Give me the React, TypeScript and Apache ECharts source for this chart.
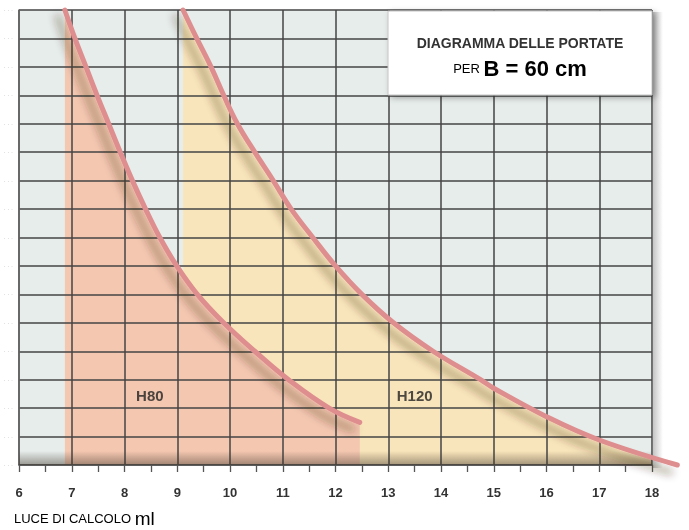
import React, { useEffect, useRef } from "react";
import * as echarts from "echarts";

// Span (x, m) and load values (y)
const h80X = [6.87, 7.06, 7.27, 7.48, 7.7, 7.92, 8.15, 8.4, 8.67, 8.99, 9.38, 9.88, 10.47, 11.11, 11.88, 12.46];
const h80Y = [16.0, 15.0, 14.0, 13.0, 12.0, 11.0, 10.0, 9.0, 8.0, 7.0, 6.0, 5.0, 4.0, 3.0, 2.0, 1.5];
const h120X = [9.11, 9.37, 9.64, 9.88, 10.14, 10.47, 10.82, 11.16, 11.57, 12.0, 12.5, 13.1, 13.85, 14.75, 15.0, 16.0, 17.0, 18.48];
const h120Y = [16.0, 15.0, 14.0, 13.0, 12.0, 11.0, 10.0, 9.0, 8.0, 7.0, 6.0, 5.0, 4.0, 3.0, 2.7, 1.7, 0.88, 0];
const labelNames = ["H80", "H120"];
const labelX = [8.48, 13.5];
const labelY = [2.45, 2.45];
const xMin = 6;
const xMax = 18;
const yMin = 0;
const yMax = 16;

const pairs = (xs: number[], ys: number[]) => xs.map((x, i) => [x, ys[i]]);

// main grid geometry
const G_LEFT = 19;
const G_RIGHT = 37;
const G_TOP = 10;
const G_BOTTOM = 65;
const W = 689;
const H = 530;

export default function App() {
  const ref = useRef<HTMLDivElement>(null);
  useEffect(() => {
    if (!ref.current) return;
    const chart = echarts.init(ref.current, undefined, { renderer: "svg" });
    const curveColor = "#de8e8e";

    // an overlay grid sharing the same scale, wider so the curves are not cut at the frame
    const pxX = (W - G_LEFT - G_RIGHT) / (xMax - xMin);
    const pxY = (H - G_TOP - G_BOTTOM) / (yMax - yMin);
    const ext = { x0: xMin, x1: 18.6, y0: -0.3, y1: 16.3 };
    const grid2 = {
      left: G_LEFT - (xMin - ext.x0) * pxX,
      width: (ext.x1 - ext.x0) * pxX,
      top: G_TOP - (ext.y1 - yMax) * pxY,
      height: (ext.y1 - ext.y0) * pxY,
    };

    const lineSeries = (name: string, data: number[][]) => ({
      name,
      type: "line",
      xAxisIndex: 1,
      yAxisIndex: 1,
      data,
      smooth: 0.4,
      showSymbol: false,
      clip: false,
      z: 6,
      lineStyle: {
        color: curveColor,
        width: 5,
        cap: "round",
        shadowColor: "rgba(50,40,30,0.45)",
        shadowBlur: 8,
        shadowOffsetX: -7,
        shadowOffsetY: 7,
      },
      silent: true,
    });
    const areaSeries = (name: string, data: number[][], color: string, z: number) => ({
      name: name + "-area",
      type: "line",
      data,
      smooth: 0.4,
      showSymbol: false,
      clip: true,
      z,
      lineStyle: { width: 0 },
      areaStyle: { color, opacity: 1 },
      silent: true,
    });
    chart.setOption({
      animation: false,
      grid: [
        {
          left: G_LEFT,
          right: G_RIGHT,
          top: G_TOP,
          bottom: G_BOTTOM,
          show: true,
          backgroundColor: "#e7edeb",
          borderWidth: 0,
        },
        { ...grid2, show: false },
      ],
      xAxis: [
        {
          type: "value",
          min: xMin,
          max: xMax,
          interval: 1,
          z: 4,
          axisLine: { show: true, lineStyle: { color: "#555", width: 1.5 } },
          axisTick: { show: true, length: 7, lineStyle: { color: "#555", width: 1.3 } },
          minorTick: { show: true, splitNumber: 2, length: 7, lineStyle: { color: "#555", width: 1.3 } },
          splitLine: { show: true, lineStyle: { color: "#454545", width: 1.5 } },
          axisLabel: {
            margin: 21,
            color: "#333",
            fontFamily: "Liberation Sans",
            fontWeight: "bold",
            fontSize: 13,
          },
        },
        { type: "value", gridIndex: 1, min: ext.x0, max: ext.x1, show: false },
      ],
      yAxis: [
        {
          type: "value",
          min: yMin,
          max: yMax,
          interval: 1,
          z: 4,
          axisLine: { show: true, lineStyle: { color: "#666", width: 1.5 } },
          axisTick: { show: false },
          splitLine: { show: true, lineStyle: { color: "#454545", width: 1.5 } },
          axisLabel: {
            interval: 1,
            margin: 6,
            color: "#9a9a9a",
            fontSize: 6,
            formatter: () => "· · ·",
          },
        },
        { type: "value", gridIndex: 1, min: ext.y0, max: ext.y1, show: false },
      ],
      graphic: [
        {
          type: "rect",
          z: 5,
          shape: { x: 19, y: 451, width: 633, height: 14 },
          style: {
            fill: new echarts.graphic.LinearGradient(0, 0, 0, 1, [
              { offset: 0, color: "rgba(60,50,40,0)" },
              { offset: 1, color: "rgba(60,50,40,0.45)" },
            ]),
          },
          silent: true,
        },
        {
          type: "rect",
          z: 5,
          shape: { x: 653, y: 12, width: 10, height: 456 },
          style: {
            fill: new echarts.graphic.LinearGradient(0, 0, 1, 0, [
              { offset: 0, color: "rgba(90,90,90,0.35)" },
              { offset: 1, color: "rgba(90,90,90,0)" },
            ]),
          },
          silent: true,
        },
        {
          type: "rect",
          z: 10,
          shape: { x: 388, y: 11, width: 264, height: 84 },
          style: {
            fill: "#ffffff",
            stroke: "#c4c4c4",
            lineWidth: 1,
            shadowBlur: 6,
            shadowColor: "rgba(0,0,0,0.35)",
            shadowOffsetX: 3,
            shadowOffsetY: 2,
          },
        },
        {
          type: "text",
          z: 11,
          x: 520,
          y: 43,
          style: {
            text: "DIAGRAMMA DELLE PORTATE",
            fill: "#333",
            font: "bold 14px 'Liberation Sans'",
            align: "center",
            verticalAlign: "middle",
          },
        },
        {
          type: "text",
          z: 11,
          x: 520,
          y: 68,
          style: {
            text: "{a|PER }{b|B = 60 cm}",
            align: "center",
            verticalAlign: "middle",
            rich: {
              a: { fontSize: 13, fontFamily: "Liberation Sans", color: "#444" },
              b: { fontSize: 22, fontFamily: "Liberation Sans", fontWeight: "bold", color: "#333" },
            },
          },
        },
        {
          type: "text",
          z: 11,
          x: 14,
          y: 518,
          style: {
            text: "{a|LUCE DI CALCOLO }{b|ml}",
            verticalAlign: "middle",
            rich: {
              a: { fontSize: 13, fontFamily: "Liberation Sans", color: "#333" },
              b: { fontSize: 19, fontFamily: "Liberation Sans", color: "#333" },
            },
          },
        },
      ],
      series: [
        areaSeries("H120", pairs(h120X, h120Y), "#f9e5bb", 1),
        areaSeries("H80", pairs(h80X, h80Y), "#f4c7b0", 2),
        lineSeries("H120", pairs(h120X, h120Y)),
        lineSeries("H80", pairs(h80X, h80Y)),
        {
          type: "scatter",
          z: 7,
          symbolSize: 1,
          itemStyle: { color: "transparent" },
          data: labelNames.map((n, i) => ({ value: [labelX[i], labelY[i]], name: n })),
          label: {
            show: true,
            position: "inside",
            formatter: (p: any) => p.name,
            color: "#222",
            fontFamily: "Liberation Sans",
            fontWeight: "bold",
            fontSize: 15,
          },
          silent: true,
        },
      ],
    });
    return () => chart.dispose();
  }, []);
  return (
    <div
      ref={ref}
      style={{ position: "fixed", left: 0, top: 0, width: W, height: H }}
    />
  );
}
